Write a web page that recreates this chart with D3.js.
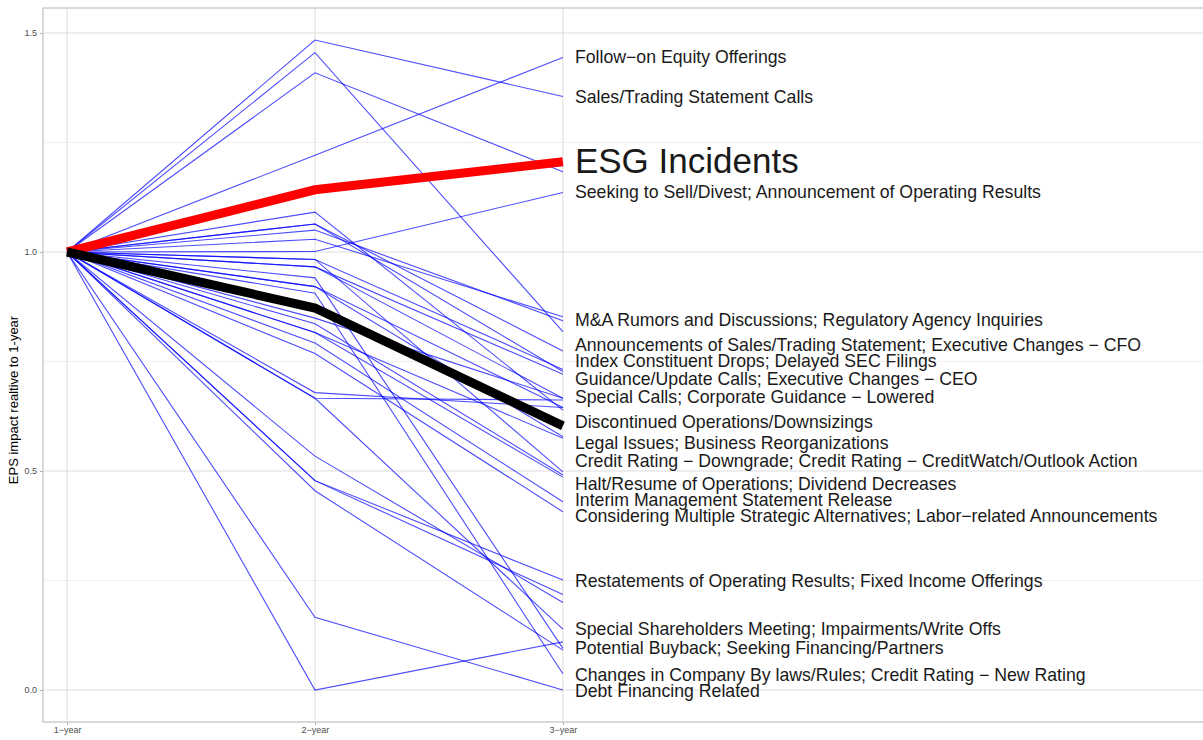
<!DOCTYPE html>
<html>
<head>
<meta charset="utf-8">
<script src="https://cdn.jsdelivr.net/npm/d3@7"></script>
<style>
  body { margin: 0; background: #fff; }
  text { font-family: "Liberation Sans", Arial, sans-serif; }
</style>
</head>
<body>
<script>
// periods on the x axis
var periods = [1, 2, 3],
    periodLabels = ["1\u2212year", "2\u2212year", "3\u2212year"];

// blue lines: value at 2-year and 3-year (1-year is always 1.0)
var yearTwo = [1.221, 1.484, 1.409, 1.001, 1.455,
               1.091, 1.064, 1.064, 1.050, 1.029, 0.983, 0.983, 0.966, 0.966,
               0.941, 0.921, 0.921, 0.906, 0.849, 0.836, 0.816, 0.816, 0.792, 0.768,
               0.679, 0.666, 0.666, 0.534, 0.478, 0.478, 0.455, 0.166, 0.0];
var yearThree = [1.444, 1.355, 1.183, 1.136, 0.818,
                 0.639, 0.774, 0.727, 0.843, 0.852, 0.732, 0.498, 0.721, 0.666,
                 0.095, 0.578, 0.645, 0.037, 0.666, 0.491, 0.575, 0.486, 0.430, 0.407,
                 0.645, 0.662, 0.139, 0.200, 0.251, 0.218, 0.091, 0.0, 0.110];

var esgLine = [1, 1.142, 1.206],
    blackLine = [1, 0.872, 0.603];

var labelText = [
  "Follow\u2212on Equity Offerings",
  "Sales/Trading Statement Calls",
  "ESG Incidents",
  "Seeking to Sell/Divest; Announcement of Operating Results",
  "M&A Rumors and Discussions; Regulatory Agency Inquiries",
  "Announcements of Sales/Trading Statement; Executive Changes \u2212 CFO",
  "Index Constituent Drops; Delayed SEC Filings",
  "Guidance/Update Calls; Executive Changes \u2212 CEO",
  "Special Calls; Corporate Guidance \u2212 Lowered",
  "Discontinued Operations/Downsizings",
  "Legal Issues; Business Reorganizations",
  "Credit Rating \u2212 Downgrade; Credit Rating \u2212 CreditWatch/Outlook Action",
  "Halt/Resume of Operations; Dividend Decreases",
  "Interim Management Statement Release",
  "Considering Multiple Strategic Alternatives; Labor\u2212related Announcements",
  "Restatements of Operating Results; Fixed Income Offerings",
  "Special Shareholders Meeting; Impairments/Write Offs",
  "Potential Buyback; Seeking Financing/Partners",
  "Changes in Company By laws/Rules; Credit Rating \u2212 New Rating",
  "Debt Financing Related"
];
// where each label sits, in EPS units
var labelAt = [1.445, 1.354, 1.208, 1.137, 0.845, 0.788, 0.751, 0.710, 0.669, 0.612,
               0.564, 0.523, 0.470, 0.434, 0.397, 0.249, 0.139, 0.096, 0.034, -0.002];

var yTicks = [0, 0.5, 1.0, 1.5],
    yMinor = [0.25, 0.75, 1.25];

var width = 1203, height = 740;

var svg = d3.select("body").append("svg")
    .attr("width", width)
    .attr("height", height);

var x = d3.scaleLinear().domain([0.903, 5.61]).range([43, 1210]),
    y = d3.scaleLinear().domain([-0.073, 1.557]).range([722, 8]);

// panel
svg.append("rect")
    .attr("x", x.range()[0]).attr("y", y.range()[1])
    .attr("width", x.range()[1] - x.range()[0])
    .attr("height", y.range()[0] - y.range()[1])
    .attr("fill", "#fff")
    .attr("stroke", "#b3b3b3");

var grid = svg.append("g");
grid.selectAll(".minor").data(yMinor).enter().append("line")
    .attr("x1", x.range()[0]).attr("x2", x.range()[1])
    .attr("y1", y).attr("y2", y)
    .attr("stroke", "#ececec").attr("stroke-width", 0.8);
grid.selectAll(".major").data(yTicks).enter().append("line")
    .attr("x1", x.range()[0]).attr("x2", x.range()[1])
    .attr("y1", y).attr("y2", y)
    .attr("stroke", "#dedede").attr("stroke-width", 1.1);
grid.selectAll(".vert").data(periods).enter().append("line")
    .attr("x1", x).attr("x2", x)
    .attr("y1", y.range()[1]).attr("y2", y.range()[0])
    .attr("stroke", "#dedede").attr("stroke-width", 1.1);

// axes
var yAxis = svg.append("g")
    .attr("transform", "translate(" + x.range()[0] + ",0)")
    .call(d3.axisLeft(y).tickValues(yTicks).tickFormat(d3.format(".1f")).tickSize(3).tickPadding(3));
var xAxis = svg.append("g")
    .attr("transform", "translate(0," + y.range()[0] + ")")
    .call(d3.axisBottom(x).tickValues(periods).tickFormat(function(d, i) { return periodLabels[i]; }).tickSize(3).tickPadding(2));
[yAxis, xAxis].forEach(function(a) {
    a.select(".domain").remove();
    a.selectAll("line").attr("stroke", "#b3b3b3");
    a.selectAll("text").attr("fill", "#4d4d4d").style("font-size", "9px")
        .style("font-family", "'Liberation Sans', Arial, sans-serif");
});

svg.append("text")
    .attr("transform", "translate(18," + 400 + ") rotate(-90)")
    .attr("text-anchor", "middle")
    .style("font-size", "13px")
    .attr("fill", "#000")
    .text("EPS impact realtive to 1-year");

// lines
var line = d3.line()
    .x(function(d, i) { return x(periods[i]); })
    .y(function(d) { return y(d); });

var blue = yearTwo.map(function(v, i) { return [1, v, yearThree[i]]; });

svg.append("g").selectAll("path")
    .data(blue)
    .enter().append("path")
    .attr("d", line)
    .attr("fill", "none")
    .attr("stroke", "#0000ff")
    .attr("stroke-opacity", 0.7)
    .attr("stroke-width", 1.1);

svg.append("path")
    .datum(esgLine)
    .attr("d", line)
    .attr("fill", "none")
    .attr("stroke", "#ff0000")
    .attr("stroke-width", 9);

svg.append("path")
    .datum(blackLine)
    .attr("d", line)
    .attr("fill", "none")
    .attr("stroke", "#000")
    .attr("stroke-width", 9);

// labels at the 3-year end
svg.append("g").selectAll("text")
    .data(labelText)
    .enter().append("text")
    .attr("x", x(3) + 12)
    .attr("y", function(d, i) { return y(labelAt[i]); })
    .attr("dy", "0.35em")
    .style("font-size", function(d) { return d === "ESG Incidents" ? "35px" : "17.7px"; })
    .attr("fill", "#1a1a1a")
    .text(function(d) { return d; });
</script>
</body>
</html>
